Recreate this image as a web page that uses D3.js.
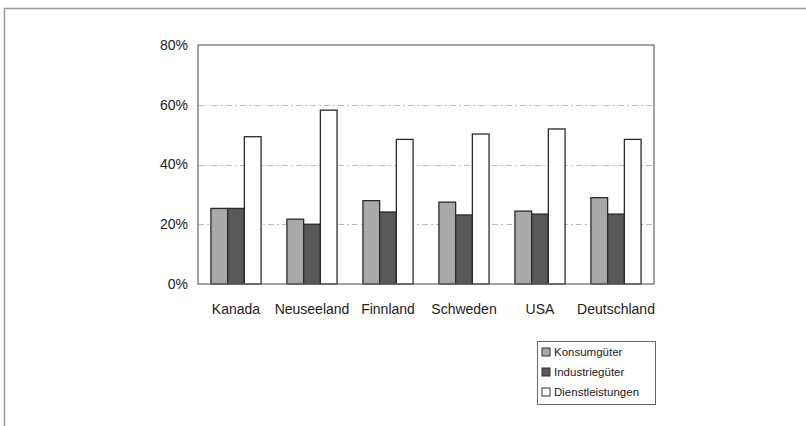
<!DOCTYPE html>
<html>
<head>
<meta charset="utf-8">
<script src="https://cdn.jsdelivr.net/npm/d3@7"></script>
<style>
  body { margin: 0; background: #fff; }
  svg { display: block; font-family: "Liberation Sans", Arial, sans-serif; }
</style>
</head>
<body>
<div id="chart"></div>
<script>
// Data
const countries = ["Kanada", "Neuseeland", "Finnland", "Schweden", "USA", "Deutschland"];
const seriesNames = ["Konsumgüter", "Industriegüter", "Dienstleistungen"];
const konsum = [25.3, 21.7, 27.9, 27.4, 24.4, 28.9];
const industrie = [25.3, 20.0, 24.1, 23.1, 23.4, 23.4];
const dienst = [49.3, 58.2, 48.4, 50.2, 51.9, 48.4];
const yTicks = [0, 20, 40, 60, 80];

const seriesValues = [konsum, industrie, dienst];
const fills = ["#a9a9a9", "#585858", "#ffffff"];

const width = 806, height = 426;
const margin = { top: 45, right: 152, bottom: 142, left: 198 };

const svg = d3.select("#chart").append("svg")
    .attr("width", width)
    .attr("height", height);

// outer frame (only top and left edges are visible in the picture)
svg.append("path")
    .attr("d", `M4.5,${height} V8.5 H${width}`)
    .attr("fill", "none")
    .attr("stroke", "#999")
    .attr("stroke-width", 1.5);

const innerW = width - margin.left - margin.right;
const innerH = height - margin.top - margin.bottom;

const g = svg.append("g").attr("transform", `translate(${margin.left},${margin.top})`);

const x0 = d3.scaleBand().domain(countries).range([0, innerW]).paddingInner(0.34).paddingOuter(0.17);
const x1 = d3.scaleBand().domain(seriesNames).range([0, x0.bandwidth()]);
const y = d3.scaleLinear().domain([0, 80]).range([innerH, 0]);

// grid lines
g.append("g")
    .selectAll("line")
    .data(yTicks.filter(t => t > 0 && t < 80))
    .join("line")
    .attr("x1", 0).attr("x2", innerW)
    .attr("y1", d => Math.round(y(d)) + 0.5)
    .attr("y2", d => Math.round(y(d)) + 0.5)
    .attr("stroke", "#bbb")
    .attr("stroke-dasharray", "6,3,2,3");

// bars
const groups = g.append("g")
    .selectAll("g")
    .data(countries)
    .join("g")
    .attr("transform", d => `translate(${x0(d)},0)`);

groups.selectAll("rect")
    .data((c, i) => seriesNames.map((s, j) => ({ s, j, v: seriesValues[j][i] })))
    .join("rect")
    .attr("x", d => x1(d.s))
    .attr("y", d => y(d.v))
    .attr("width", x1.bandwidth())
    .attr("height", d => innerH - y(d.v))
    .attr("fill", d => fills[d.j])
    .attr("stroke", "#2a2a2a")
    .attr("stroke-width", 1.3);

// plot frame
g.append("rect")
    .attr("x", 0).attr("y", 0)
    .attr("width", innerW).attr("height", innerH)
    .attr("fill", "none")
    .attr("stroke", "#666")
    .attr("stroke-width", 1.2);

// y axis
const yAxis = g.append("g")
    .call(d3.axisLeft(y).tickValues(yTicks).tickFormat(d => d + "%").tickSize(0).tickPadding(10));
yAxis.select(".domain").remove();
yAxis.selectAll("text").attr("font-size", 14).attr("fill", "#222")
    .attr("font-family", "Liberation Sans, Arial, sans-serif");

// x axis
const xAxis = g.append("g")
    .attr("transform", `translate(0,${innerH})`)
    .call(d3.axisBottom(x0).tickSize(0).tickPadding(20));
xAxis.select(".domain").remove();
xAxis.selectAll("text").attr("font-size", 14).attr("fill", "#222")
    .attr("font-family", "Liberation Sans, Arial, sans-serif");

// legend
const legend = svg.append("g").attr("transform", "translate(537,341)");
legend.append("rect")
    .attr("x", 0.5).attr("y", 0.5)
    .attr("width", 118).attr("height", 63)
    .attr("fill", "#fff")
    .attr("stroke", "#666");

const items = legend.selectAll("g.item")
    .data(seriesNames)
    .join("g")
    .attr("class", "item")
    .attr("transform", (d, i) => `translate(5,${11 + i * 20})`);

items.append("rect")
    .attr("x", 0).attr("y", -4)
    .attr("width", 8).attr("height", 8)
    .attr("fill", (d, i) => fills[i])
    .attr("stroke", "#333");

items.append("text")
    .attr("x", 12)
    .attr("y", 0)
    .attr("dy", "0.35em")
    .attr("font-size", 11.5)
    .attr("fill", "#222")
    .text(d => d);
</script>
</body>
</html>
